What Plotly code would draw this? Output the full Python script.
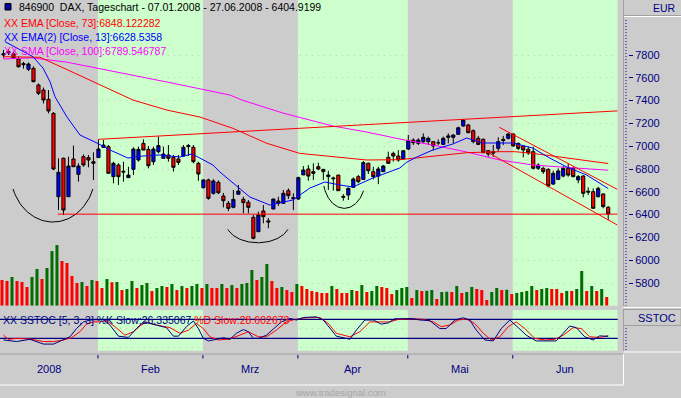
import numpy as np
import plotly.graph_objects as go

# ---------------- data ----------------
opens = [7800, 7830, 7810, 7765, 7725, 7675, 7683, 7537, 7493, 7411,
         7288, 6557, 6894, 6557, 6888, 6753, 6908, 6900, 6864,
         6900, 6990, 6996, 6733, 6835, 6780, 6724, 6797, 6879, 7025,
         6972, 6864, 6952, 6894, 6923, 6902, 6888, 6914, 6996, 6990, 6850,
         6636, 6704, 6587, 6683, 6563, 6499, 6464, 6578, 6534, 6508,
         6376, 6250, 6432, 6345, 6449, 6519, 6499, 6610, 6549,
         6537, 6748, 6800, 6777, 6820, 6797, 6733, 6722, 6747, 6560,
         6572, 6639, 6733, 6709, 6850, 6777, 6738, 6777, 6902, 6937, 6914, 6888,
         6975, 7054, 7025, 7040, 7040, 7040, 7030, 7016, 7078, 7078,
         7104, 7177, 7186, 7136, 7069, 7060, 6961, 6952, 6981, 7060, 7069,
         7107, 7025, 7002, 6973, 6952, 6806, 6806, 6797, 6668, 6709,
         6738, 6806, 6806, 6704, 6738, 6605, 6601, 6557, 6581, 6464]
highs = [7845, 7850, 7830, 7785, 7740, 7735, 7700, 7551, 7515, 7493,
         7300, 6894, 6900, 6908, 7005, 6850, 6928, 6923, 6946,
         7054, 7054, 7010, 6864, 6850, 6864, 6820, 6990, 6996, 7060,
         7002, 6996, 7084, 6996, 7010, 6923, 6923, 7010, 7020, 7010, 6864,
         6710, 6715, 6710, 6700, 6590, 6520, 6616, 6660, 6557, 6528,
         6397, 6426, 6484, 6370, 6537, 6557, 6616, 6630, 6587,
         6733, 6826, 6835, 6850, 6855, 6797, 6785, 6733, 6747, 6580,
         6639, 6727, 6748, 6870, 6856, 6820, 6820, 6835, 6952, 6952, 6966, 6966,
         7098, 7069, 7069, 7113, 7084, 7040, 7060, 7084, 7113, 7104,
         7171, 7239, 7195, 7148, 7090, 7069, 6966, 7010, 7078, 7090, 7113,
         7113, 7031, 7002, 6996, 6996, 6850, 6820, 6806, 6785, 6806,
         6826, 6850, 6820, 6747, 6747, 6639, 6630, 6645, 6587, 6476]
lows = [7775, 7800, 7765, 7690, 7680, 7660, 7560, 7449, 7375, 7288,
        6790, 6440, 6396, 6557, 6820, 6689, 6820, 6815, 6703,
        6900, 6985, 6762, 6674, 6660, 6689, 6724, 6747, 6864, 6966,
        6806, 6835, 6937, 6894, 6864, 6777, 6835, 6908, 6914, 6850, 6697,
        6630, 6530, 6575, 6580, 6463, 6430, 6455, 6578, 6411, 6411,
        6183, 6250, 6324, 6280, 6449, 6475, 6499, 6537, 6440,
        6528, 6748, 6697, 6704, 6790, 6704, 6616, 6610, 6610, 6522,
        6528, 6639, 6675, 6709, 6756, 6709, 6668, 6777, 6844, 6864, 6864, 6888,
        6966, 7010, 7010, 7025, 7010, 6960, 7010, 7010, 7025, 7025,
        7104, 7171, 7113, 7025, 7010, 6943, 6908, 6908, 6952, 7010, 7060,
        6996, 6966, 6902, 6923, 6797, 6791, 6756, 6639, 6660, 6703,
        6727, 6733, 6727, 6675, 6551, 6572, 6455, 6551, 6455, 6352]
closes = [7810, 7820, 7776, 7697, 7715, 7721, 7566, 7464, 7405, 7309,
          6800, 6771, 6440, 6826, 6820, 6826, 6835, 6879, 6850,
          6975, 7010, 6762, 6850, 6733, 6774, 6747, 6975, 6972, 6966,
          6829, 6975, 7005, 6931, 6894, 6815, 6858, 6990, 7005, 6864, 6756,
          6704, 6543, 6695, 6592, 6522, 6455, 6534, 6607, 6505, 6464,
          6192, 6397, 6382, 6335, 6537, 6499, 6587, 6566, 6540,
          6724, 6791, 6738, 6762, 6800, 6777, 6747, 6715, 6610, 6553,
          6630, 6712, 6689, 6856, 6785, 6733, 6800, 6826, 6850, 6914, 6879, 6960,
          7049, 7031, 7054, 7078, 7069, 7002, 7030, 7069, 7090, 7098,
          7162, 7230, 7119, 7040, 7016, 6943, 6932, 6940, 7040, 7050, 7107,
          7002, 6981, 6967, 6943, 6806, 6835, 6777, 6651, 6762, 6783,
          6806, 6747, 6733, 6733, 6587, 6598, 6455, 6630, 6470, 6405]
volumes = [128, 123, 143, 123, 118, 93, 143, 183, 133, 188,
           273, 303, 223, 213, 148, 113, 118, 98, 128,
           123, 88, 133, 117, 118, 78, 83, 123, 88, 103,
           113, 73, 88, 98, 93, 108, 78, 98, 88, 98, 108,
           88, 108, 88, 88, 108, 88, 103, 88, 108, 113,
           178, 128, 143, 208, 123, 88, 93, 78, 68,
           108, 98, 83, 73, 68, 63, 63, 98, 83, 63,
           63, 78, 73, 103, 68, 73, 98, 93, 88, 58, 78, 88,
           93, 38, 78, 73, 75, 78, 33, 68, 70, 68,
           98, 63, 68, 93, 83, 78, 28, 68, 88, 78, 80,
           58, 63, 68, 73, 98, 78, 83, 88, 83, 83,
           63, 73, 73, 83, 173, 73, 98, 73, 83, 43]

# indicator lines, sampled (trading-day index, value)
ema73_x = [-0.1, 7.3, 12.7, 19.3, 25.9, 32.7, 39.3, 45.9, 52.7, 59.3, 65.9,
           72.7, 79.3, 85.9, 92.7, 99.3, 102.3, 105.9, 112.7, 121]
ema73_y = [7785, 7780, 7672, 7537, 7405, 7317, 7256, 7157, 7025, 6937, 6908,
           6879, 6882, 6914, 6943, 6952, 6952, 6937, 6896, 6848.12]
ema13_x = [0.3, 5.9, 7.9, 9.3, 10.3, 12.7, 15.3, 18.7, 21.3, 24.9, 27.9, 31.3,
           35.3, 37.7, 39.3, 41.9, 43.3, 45.9, 49.3, 53.3, 57.9, 61.3, 64.3,
           67.3, 69.9, 73.9, 76.7, 79.3, 80.7, 82.7, 85.9, 89.9, 92.7, 95.9,
           99.3, 101.9, 105.9, 109.3, 112.7, 116.7, 121]
ema13_y = [7917, 7785, 7686, 7566, 7434, 7256, 7098, 7028, 6967, 6896, 6914, 6923,
           6905, 6932, 6896, 6835, 6774, 6677, 6554, 6484, 6528, 6633, 6686,
           6660, 6642, 6721, 6765, 6809, 6860, 6905, 6967, 7019, 7072, 7028,
           7028, 7028, 6984, 6896, 6818, 6747, 6628.5]
sma100_x = [-0.1, 5.7, 12.7, 19.3, 22.7, 32.7, 45.3, 47.7, 55.9, 65.9, 72.7,
            79.3, 85.9, 92.7, 99.3, 105.9, 112.7, 121]
sma100_y = [7765, 7775, 7737, 7680, 7645, 7563, 7449, 7405, 7291, 7177, 7124,
            7063, 7010, 6949, 6879, 6835, 6814, 6789.5]

stoch_k_x = [0, 2.6, 5.3, 8.0, 10.0, 12.0, 13.3, 14.6, 16.0, 17.3, 19.0, 20.0,
             21.3, 23.0, 25.0, 26.6, 28.0, 29.0, 30.6, 32.6, 34.0, 35.0, 36.6,
             38.0, 39.0, 40.0, 41.0, 42.6, 44.0, 45.3, 46.6, 48.0, 49.0, 50.0,
             51.0, 52.6, 54.3, 55.6, 57.3, 58.6, 60.0, 62.6, 64.0, 65.3, 66.6,
             68.6, 69.3, 70.6, 72.3, 74.0, 75.6, 77.0, 78.3, 80.0, 81.6, 83.3,
             85.3, 87.3, 88.6, 90.3, 92.0, 93.3, 94.6, 96.3, 98.0, 99.6, 101.3,
             103.0, 104.6, 106.6, 108.6, 110.6, 112.0, 113.3, 114.6, 116.3,
             118.0, 119.3, 121]
stoch_k_y = [15, 10, 17, 2, 2, 17, 25, 51, 72, 78, 78, 80,
             62, 27, 23, 51, 72, 69, 62, 54, 27, 27, 57,
             75, 51, 20, 12, 17, 22, 17, 36, 48, 41, 20,
             20, 30, 54, 72, 83, 78, 86, 88, 78, 54, 27,
             20, 17, 46, 78, 78, 65, 69, 82, 82, 83, 78,
             76, 51, 51, 78, 85, 78, 46, 15, 12, 51, 78,
             54, 30, 12, 12, 12, 36, 59, 54, 25,
             15, 28, 26.3]
stoch_d_x = [0, 1, 2.6, 5.3, 8.0, 10.0, 12.0, 13.6, 15.3, 16.6, 18.0, 19.3,
             20.6, 22.3, 24.3, 26.0, 27.3, 28.6, 30.6, 33.3, 35.3, 37.0, 38.6,
             40.0, 41.3, 43.0, 45.3, 47.3, 49.0, 51.0, 52.6, 54.6, 56.6, 58.3,
             60.6, 63.3, 65.0, 66.6, 69.3, 71.3, 73.3, 75.3, 77.3, 79.0, 80.6,
             82.3, 84.0, 86.0, 87.6, 89.3, 91.0, 92.6, 94.3, 96.0, 97.6, 99.3,
             101.0, 102.6, 104.3, 106.3, 108.3, 110.3, 112.0, 114.0, 115.6,
             117.3, 119.3, 121]
stoch_d_y = [30, 17, 20, 18, 10, 10, 15, 22, 41, 65, 72, 72,
             76, 57, 30, 41, 59, 72, 62, 54, 36, 46, 67,
             51, 25, 15, 18, 30, 41, 25, 25, 46, 72, 80,
             85, 86, 67, 36, 25, 41, 72, 72, 72, 80, 82,
             82, 80, 72, 57, 62, 78, 81, 67, 36, 15, 25,
             57, 72, 51, 20, 15, 17, 30, 54, 51,
             25, 23, 28.6]

month_labels = ["2008", "Feb", "Mrz", "Apr", "Mai", "Jun"]
month_first_day = [0, 19, 40, 59, 81, 102]
price_ticks = [5800, 6000, 6200, 6400, 6600, 6800, 7000, 7200, 7400, 7600, 7800]

# drawn objects: trend lines (day, price, day, price) and bowl arcs
trend_lines = [(10.84, 6404, 122.9, 6404),
               (18.9, 7060, 122.9, 7310),
               (99.2, 7166, 122.8, 6622),
               (96.7, 6951, 122.8, 6309)]
arcs = [(9.9, 6775, 8.5, 440, 20, 160),
        (50.9, 6332, 6.4, 179, 20, 160),
        (68.2, 6726, 4.26, 271, 25.5, 163.9)]

title_text = "846900\u00a0 DAX, Tageschart - 07.01.2008 - 27.06.2008 - 6404.9199"
legend_texts = [("XX EMA [Close, 73]:6848.122282", "#ff0000"),
                ("XX EMA(2) [Close, 13]:6628.5358", "#0000ff"),
                ("XX SMA [Close, 100]:6789.546787", "#ff00ff")]

# ---------------- styling / geometry ----------------
W, H = 681, 398
GRAY = "#cccccc"
GREEN = "#ccffcc"
NAVY = "#000080"
GRID = "#c6c6c6"
FONT = "Liberation Sans, Arial, sans-serif"
FS = 10.5

def px(x):
    return x / W

def py(y):
    return 1 - y / H

XR = [-0.7, 122.9]
n = len(closes)
idx = list(range(n))

fig = go.Figure()

fig.add_trace(go.Candlestick(
    x=idx, open=opens, high=highs, low=lows, close=closes,
    increasing=dict(line=dict(color="black", width=1), fillcolor="#0000ff"),
    decreasing=dict(line=dict(color="black", width=1), fillcolor="#ff0000"),
    whiskerwidth=0, xaxis="x", yaxis="y", hoverinfo="skip"))

vol_colors = ["#ff0000"] + ["#006e00" if volumes[i] > volumes[i - 1] else "#ff0000"
                            for i in range(1, n)]
fig.add_trace(go.Bar(x=idx, y=volumes, width=0.6, offset=-0.6,
                     marker=dict(color=vol_colors, line=dict(width=0)),
                     xaxis="x", yaxis="y2", hoverinfo="skip"))

for xs, ys, col in [(sma100_x, sma100_y, "#ff00ff"),
                    (ema73_x, ema73_y, "#ff0000"),
                    (ema13_x, ema13_y, "#0000ff")]:
    fig.add_trace(go.Scatter(x=xs, y=ys, mode="lines", line=dict(color=col, width=1),
                             xaxis="x", yaxis="y", hoverinfo="skip"))

for cx, cy, rx, ry, t0, t1 in arcs:
    t = np.radians(np.linspace(t0, t1, 60))
    fig.add_trace(go.Scatter(x=cx + rx * np.cos(t), y=cy - ry * np.sin(t), mode="lines",
                             line=dict(color="black", width=1), xaxis="x", yaxis="y",
                             hoverinfo="skip"))

fig.add_trace(go.Scatter(x=stoch_d_x, y=stoch_d_y, mode="lines",
                         line=dict(color="#ff0000", width=1), xaxis="x2", yaxis="y3",
                         hoverinfo="skip"))
fig.add_trace(go.Scatter(x=stoch_k_x, y=stoch_k_y, mode="lines",
                         line=dict(color=NAVY, width=1), xaxis="x2", yaxis="y3",
                         hoverinfo="skip"))

shapes = []
bounds = [b - 0.1 for b in month_first_day[1:]]
edges = [XR[0]] + bounds + [XR[1]]
main_y = (py(305.7), 1.0)
stoch_y = (py(350.7), py(310))
for k in range(len(month_labels)):
    if k % 2 == 1:
        for y0, y1 in (main_y, stoch_y):
            shapes.append(dict(type="rect", xref="x", yref="paper", x0=edges[k], x1=edges[k + 1],
                               y0=y0, y1=y1, fillcolor=GREEN, line=dict(width=0), layer="below"))
# month ticks on the time axis
for b in bounds:
    shapes.append(dict(type="line", xref="x", yref="paper", x0=b, x1=b, y0=py(355), y1=py(358.5),
                       line=dict(color=NAVY, width=1)))
# stochastic 20 / 80 levels
for lvl in (80, 20):
    shapes.append(dict(type="line", xref="paper", yref="y3", x0=0, x1=px(617.7), y0=lvl, y1=lvl,
                       line=dict(color=NAVY, width=1.2), layer="between"))
# trend lines
for x0, y0, x1, y1 in trend_lines:
    shapes.append(dict(type="line", xref="x", yref="y", x0=x0, y0=y0, x1=x1, y1=y1,
                       line=dict(color="#ff0000", width=1), layer="above"))
# dotted axis lines on the right
shapes.append(dict(type="line", xref="paper", yref="paper", x0=px(626), x1=px(626),
                   y0=py(20), y1=py(305.7), line=dict(color=NAVY, width=1, dash="1px,2px")))
shapes.append(dict(type="line", xref="paper", yref="paper", x0=px(626), x1=px(626),
                   y0=py(328), y1=py(350.7), line=dict(color=NAVY, width=1, dash="1px,2px")))
# panel borders
BORDER = "#a0a0a0"
shapes += [
    dict(type="line", xref="paper", yref="paper", x0=px(623.5), x1=px(623.5), y0=py(0), y1=py(306),
         line=dict(color=BORDER, width=1)),
    dict(type="line", xref="paper", yref="paper", x0=px(624), x1=1, y0=py(15.5), y1=py(15.5),
         line=dict(color=BORDER, width=1)),
    dict(type="line", xref="paper", yref="paper", x0=px(624), x1=1, y0=py(16.5), y1=py(16.5),
         line=dict(color="white", width=1)),
    dict(type="line", xref="paper", yref="paper", x0=px(623.5), x1=1, y0=py(307.5), y1=py(307.5),
         line=dict(color="white", width=1)),
    dict(type="rect", xref="paper", yref="paper", x0=px(623.5), x1=px(681), y0=py(325.5), y1=py(309.5),
         line=dict(color=BORDER, width=1)),
    dict(type="line", xref="paper", yref="paper", x0=px(623.5), x1=px(623.5), y0=py(309), y1=py(351),
         line=dict(color=BORDER, width=1)),
    dict(type="line", xref="paper", yref="paper", x0=px(623.5), x1=1, y0=py(352), y1=py(352),
         line=dict(color="white", width=1)),
    dict(type="line", xref="paper", yref="paper", x0=0, x1=px(623.5), y0=py(354), y1=py(354),
         line=dict(color=BORDER, width=1)),
    dict(type="line", xref="paper", yref="paper", x0=px(623.5), x1=px(623.5), y0=py(354), y1=py(385),
         line=dict(color="white", width=1)),
    dict(type="line", xref="paper", yref="paper", x0=0, x1=px(623.5), y0=py(385), y1=py(385),
         line=dict(color="white", width=1)),
    dict(type="rect", xref="paper", yref="paper", x0=px(5), x1=px(11), y0=py(10), y1=py(3.5),
         fillcolor="#0000a0", line=dict(color="black", width=1)),
]

annotations = []
annotations.append(dict(text=title_text, xref="paper", yref="paper", x=px(17), y=py(7.5),
                        xanchor="left", yanchor="middle", showarrow=False,
                        font=dict(family=FONT, size=FS, color="black")))
for k, (txt, col) in enumerate(legend_texts):
    annotations.append(dict(text=txt, xref="paper", yref="paper", x=px(2), y=py(23.3 + 14 * k),
                            xanchor="left", yanchor="middle", showarrow=False,
                            font=dict(family=FONT, size=FS, color=col)))
annotations.append(dict(
    text="XX SSTOC [5, 3, 3] %K Slow:26.335067 <span style='color:#ff0000'>%D Slow:28.602673</span>",
    xref="paper", yref="paper", x=px(1), y=py(319.5), xanchor="left", yanchor="middle",
    showarrow=False, font=dict(family=FONT, size=FS, color=NAVY)))
for k, lab in enumerate(month_labels):
    annotations.append(dict(text=lab, xref="x", yref="paper", x=(edges[k] + edges[k + 1]) / 2,
                            y=py(368.5), xanchor="center", yanchor="middle", showarrow=False,
                            font=dict(family=FONT, size=FS + 0.5, color=NAVY)))
annotations.append(dict(text="EUR", xref="paper", yref="paper", x=px(678), y=py(8),
                        xanchor="right", yanchor="middle", showarrow=False,
                        font=dict(family=FONT, size=FS, color=NAVY)))
annotations.append(dict(text="SSTOC", xref="paper", yref="paper", x=px(678), y=py(317.5),
                        xanchor="right", yanchor="middle", showarrow=False,
                        font=dict(family=FONT, size=FS + 0.5, color=NAVY)))
annotations.append(dict(text="www.tradesignal.com", xref="paper", yref="paper", x=px(340), y=py(392),
                        xanchor="center", yanchor="middle", showarrow=False,
                        font=dict(family=FONT, size=9.5, color="#a8a8a8")))

fig.update_layout(
    width=W, height=H, margin=dict(l=0, r=0, t=0, b=0),
    paper_bgcolor=GRAY, plot_bgcolor=GRAY, showlegend=False,
    barmode="overlay", boxgap=0.1,
    xaxis=dict(domain=[0, px(617.7)], range=XR, visible=False, anchor="y",
               rangeslider=dict(visible=False)),
    yaxis=dict(domain=list(main_y), range=[5600.9, 8282.5], anchor="free", position=px(628),
               side="right", tickmode="array", tickvals=price_ticks, ticks="outside", ticklen=4,
               tickwidth=1, tickcolor=NAVY, tickfont=dict(family=FONT, size=FS + 0.5, color=NAVY),
               showgrid=True, gridcolor=GRID, griddash="1px,5px", gridwidth=1,
               zeroline=False, showline=False),
    yaxis2=dict(overlaying="y", range=[0, 1528], visible=False, anchor="x"),
    xaxis2=dict(domain=[0, px(617.7)], range=XR, visible=False, anchor="y3", matches="x"),
    yaxis3=dict(domain=list(stoch_y), range=[-18.9, 109.6], anchor="x2", tickmode="array",
                tickvals=[-10, 50], showticklabels=False, ticks="", showgrid=True,
                gridcolor=GRID, griddash="1px,5px", zeroline=False, showline=False),
    shapes=shapes, annotations=annotations,
)

fig.write_html("out.html", config={"displayModeBar": False},
               post_script="document.body.style.margin='0';document.body.style.overflow='hidden';")
